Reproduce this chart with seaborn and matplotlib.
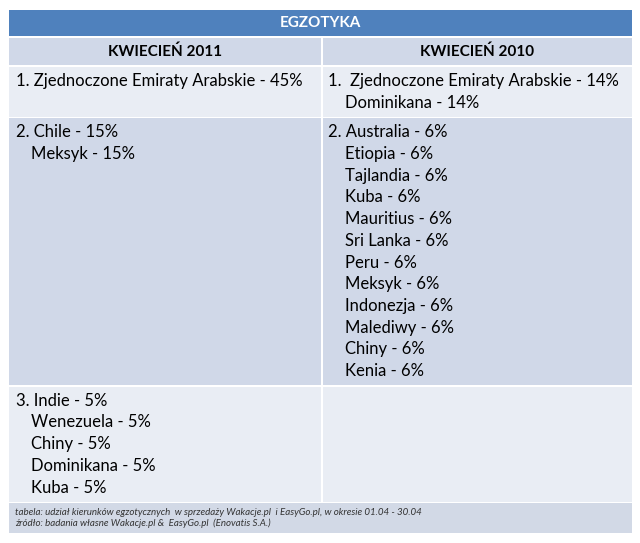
import matplotlib
matplotlib.use("Agg")
from matplotlib import pyplot as plt
import seaborn as sns

# table content
title = "EGZOTYKA"
headers = ["KWIECIEŃ 2011", "KWIECIEŃ 2010"]
col_2011 = [
    ["1. Zjednoczone Emiraty Arabskie - 45%"],
    ["2. Chile - 15%", "Meksyk - 15%"],
    ["3. Indie - 5%", "Wenezuela - 5%", "Chiny - 5%", "Dominikana - 5%", "Kuba - 5%"],
]
col_2010 = [
    ["1.  Zjednoczone Emiraty Arabskie - 14%", "Dominikana - 14%"],
    ["2. Australia - 6%", "Etiopia - 6%", "Tajlandia - 6%", "Kuba - 6%",
     "Mauritius - 6%", "Sri Lanka - 6%", "Peru - 6%", "Meksyk - 6%",
     "Indonezja - 6%", "Malediwy - 6%", "Chiny - 6%", "Kenia - 6%"],
    [],
]
footer = [
    "tabela: udział kierunków egzotycznych  w sprzedaży Wakacje.pl  i EasyGo.pl, w okresie 01.04 - 30.04",
    "źródło: badania własne Wakacje.pl &  EasyGo.pl  (Enovatis S.A.)",
]

sns.set_theme(style="white")
plt.rcParams['font.family'] = ['Lato', 'DejaVu Sans']

# layout (pixels)
left, mid, right = 8, 322, 633
title_top, title_h = 9, 28
header_h = 29
line_h, pad = 21.7, 8
footer_h = 31
c_title = "#4f81bd"
c_dark = "#d0d8e8"
c_light = "#e9edf4"
c_foot = "#d2d9e6"

fig = plt.figure(figsize=(6.4, 5.43), dpi=100)
ax = fig.add_axes([0, 0, 1, 1])
ax.set_xlim(0, 640)
ax.set_ylim(543, 0)
ax.axis('off')


def cell(x0, x1, y0, h, color):
    ax.barh(y0 + h / 2, x1 - x0 - 2, left=x0 + 1, height=h - 1.5,
            color=color, edgecolor='none')


# title row
cell(left, right, title_top, title_h, c_title)
ax.text((left + right) / 2, title_top + title_h / 2, title, color='white',
        fontsize=11, fontweight='bold', ha='center', va='center')

# header row
y = title_top + title_h
cell(left, mid, y, header_h, c_dark)
cell(mid, right, y, header_h, c_dark)
ax.text((left + mid) / 2, y + header_h / 2, headers[0], fontsize=11,
        fontweight='bold', ha='center', va='center', color='black')
ax.text((mid + right) / 2, y + header_h / 2, headers[1], fontsize=11,
        fontweight='bold', ha='center', va='center', color='black')
y += header_h

# body rows
for i, (a, b) in enumerate(zip(col_2011, col_2010)):
    h = max(len(a), len(b)) * line_h + pad
    color = c_light if i % 2 == 0 else c_dark
    cell(left, mid, y, h, color)
    cell(mid, right, y, h, color)
    for x0, lines, ind in [(left + 8, a, 15), (mid + 6, b, 17)]:
        for j, s in enumerate(lines):
            ax.text(x0 + (ind if j > 0 else 0), y + 15 + j * line_h, s,
                    fontsize=12, ha='left', va='center', color='black')
    y += h

# footer
cell(left, right, y, footer_h, c_foot)
for j, s in enumerate(footer):
    ax.text(left + 7, y + 10 + j * 11, s, fontsize=7, style='italic',
            ha='left', va='center', color='#333333')

fig.savefig("out.png", dpi=100, facecolor='white')
